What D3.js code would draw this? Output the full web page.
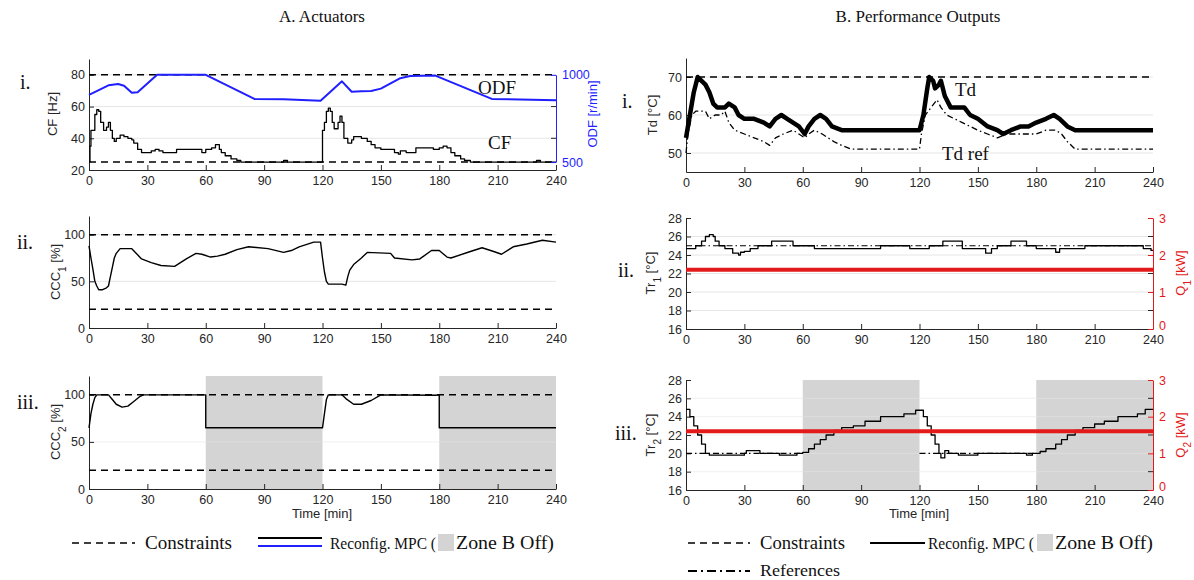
<!DOCTYPE html>
<html><head><meta charset="utf-8">
<script src="https://cdn.jsdelivr.net/npm/d3@7"></script>
<style>
body{margin:0;background:#fff}
text{font-family:"Liberation Sans",Arial,Helvetica,sans-serif}
.serif{font-family:"Liberation Serif","Times New Roman",serif}
</style>
</head><body>
<svg id="c" width="1194" height="580"></svg>
<script>
// ---------- data ----------
const timeTicks = [0,30,60,90,120,150,180,210,240];
const zoneOff = [[60,120],[180,240]];

// A.i  CF [Hz] (left) and ODF [r/min] (right)
const cfTicks = [20,40,60,80];
const cfConstraints = [25,80];
const cfData = [[0,25],[0.5,35],[1,45],[3,55],[4,58],[5,57],[6,50],[7.5,45],[9,47],[10,50],[11,45],[12,40],[13,38],[14,40],[16,42],[18,41],[20,40],[22,39],[23,37],[25,33],[27,31],[32,32],[34,33],[36,32],[38,31],[45,33],[56,33],[58,31],[60,33],[63,34],[65,36],[67,33],[68,31],[70,29],[73,27],[76,26],[78,25],[100,26],[102,25],[120,45],[121,50],[122,57],[123,59],[124,57],[125,50],[126,46],[128,50],[129,54],[130,50],[131,40],[133,37],[135,39],[136,41],[140,40],[143,38],[145,36],[147,34],[150,33],[155,33],[157,31],[159,30],[160,32],[163,31],[168,34],[175,34],[177,33],[180,34],[182,35],[184,34],[186,31],[188,29],[191,27],[193,26],[196,25],[230,26],[232,25],[240,25]];
const odfTicks = [500,1000];
const odfData = [[0,885],[5,912],[10,940],[15,948],[18,938],[22,897],[25,900],[35,1000],[60,1000],[85,862],[100,860],[119,852],[130,963],[135,903],[140,906],[145,908],[150,921],[160,981],[165,994],[178,996],[207,862],[240,854]];

// A.ii CCC1 [%]
const pctTicks = [0,50,100];
const pctConstraints = [20,100];
const ccc1Data = [[0,88],[1,75],[2,63],[3,50],[4,45],[5,41],[7,41],[9,43],[10,45],[11,55],[12,65],[13,75],[14,80],[16,85],[22,85],[27,74],[32,70],[37,67],[44,66],[50,74],[55,80],[58,79],[62.5,76],[66,77],[70,79],[76,84],[82,87],[92,85],[100,81],[104,83],[108,87],[115.5,92],[119,92],[120,75],[121,60],[122,50],[123,47],[130,47],[132,46],[133,55],[134,62],[136,68],[140,75],[143,81],[155,80],[157,75],[166,73],[170,74],[176,83],[180,83],[184,76],[186,75],[196,82],[202,86],[208,82],[212,79],[218,87],[225,90],[233,94],[240,92]];

// A.iii CCC2 [%]
const ccc2Data = [[0,65],[1,80],[2,90],[3,97],[4,100],[10,100],[12,95],[14,90],[17,87],[20,88],[23,93],[26,98],[28,100],[60,100],[60,65],[120,65],[121,80],[122,95],[123,100],[130,100],[132,96],[136,90],[140,90],[145,94],[150,100],[178,99.5],[180,100],[180,65],[240,65]];

// B.i Td [°C]
const tdTicks = [50,60,70];
const tdConstraint = [70];
const tdData = [[0,54],[2,60],[4,66],[6,70],[8,69],[10,68],[12,66],[14,63],[16,62],[20,62],[22,63],[25,62],[27,60],[30,59],[35,59],[40,58],[43,57],[46,59],[49,60],[52,59],[55,58],[58,57],[61,55],[63,57],[66,59],[69,60],[72,59],[75,57],[80,56],[120,56],[122,60],[124,67],[125,70],[127,69],[128,67],[130,68],[131,69],[133,65],[136,62],[143,62],[146,60],[150,59],[155,57],[160,56],[163,55],[167,56],[172,57],[176,57],[180,58],[185,59],[189,60],[192,59],[196,57],[200,56],[240,56]];
const tdRefData = [[0,50],[1,55],[3,60],[5,61],[10,61],[12,59],[15,60],[18,60],[20,61],[22,58],[25,56],[30,55],[35,54],[40,53],[43,52],[46,54],[50,55],[55,56],[58,55],[61,54],[63,55],[66,56],[70,55],[73,54],[76,53],[80,52],[85,51],[120,51],[121,55],[123,60],[126,62],[129,64],[131,62],[134,60],[138,59],[142,58],[146,57],[150,56],[155,55],[160,54],[165,55],[180,55],[185,56],[190,56],[193,55],[196,53],[200,51],[240,51]];

// B.ii Tr1 [°C] and Q1 [kW]
const trTicks = [16,18,20,22,24,26,28];
const qTicks = [0,1,2,3];
const tr1Data = [[0,24.7],[5,25],[8,25.5],[10,26],[12,26.2],[14,26],[15,25.5],[17,25],[20,24.7],[24,24.2],[27,24],[28,24.3],[30,24.4],[33,24.7],[37,25],[44,25.5],[55,25],[66,24.7],[100,25],[115,24.7],[125,25],[132,25.5],[142,24.7],[154,24.2],[157,24.7],[160,25],[167,25.5],[175,25],[180,24.7],[190,24.3],[192,24.7],[205,25],[235,24.7],[239,24.5],[240,24.5]];
const tr1Ref = [[0,25],[240,25]];
const q1Data = [[0,1.6],[240,1.6]];

// B.iii Tr2 [°C] and Q2 [kW]
const tr2Data = [[0,24.8],[2,24],[4,23],[6,22],[8,21],[10,20],[12,19.8],[30,20],[31,20.3],[38,20],[48,19.8],[55,19.8],[57,20],[60,20.1],[63,20.5],[66,21],[69,21.5],[72,22],[76,22.5],[80,22.8],[86,23],[92,23.5],[100,24],[112,24.3],[118,24.7],[120,24.7],[122,24],[124,23],[126,22],[128,21],[130,20],[131,19.5],[133,20.3],[135,20],[140,19.8],[150,20],[175,19.8],[178,20],[182,20.2],[185,20.5],[190,21],[193,21.5],[196,22],[200,22.5],[204,22.8],[210,23.2],[215,23.5],[222,24],[232,24.3],[236,24.8],[240,24.8]];
const tr2Ref = [[[0,20],[60,20]],[[120,20],[180,20]]];
const q2Data = [[0,1.6],[240,1.6]];

// ---------- drawing ----------
const svg = d3.select("#c");
const AXC = "#262626", GRID = "#e6e6e6", ZONE = "#d4d4d4";
const BLUE = "#1f1fff", RED = "#e31a1a";
const fmt = d3.format("d");

function panel(o){
  const x = d3.scaleLinear([0,240],[o.x0,o.x1]);
  const y = d3.scaleLinear(o.domain,[o.yb,o.yt]);
  const g = svg.append("g");
  if(o.zones) o.zones.forEach(z=>g.append("rect").attr("x",x(z[0])).attr("y",o.yt)
      .attr("width",x(z[1])-x(z[0])).attr("height",o.yb-o.yt).attr("fill",ZONE));
  o.ticks.forEach(t=>{ if(t!==o.domain[0]&&t!==o.domain[1])
    g.append("line").attr("x1",o.x0).attr("x2",o.x1).attr("y1",y(t)).attr("y2",y(t))
      .attr("stroke",GRID).attr("stroke-width",1).attr("opacity",o.zones?0.55:1);});
  const ax = g.append("g").attr("transform",`translate(${o.x0},0)`)
    .call(d3.axisLeft(y).tickValues(o.ticks).tickFormat(fmt).tickSizeInner(-5).tickSizeOuter(0).tickPadding(4));
  const bx = g.append("g").attr("transform",`translate(0,${o.yb})`)
    .call(d3.axisBottom(x).tickValues(timeTicks).tickFormat(fmt).tickSizeInner(-5).tickSizeOuter(0).tickPadding(6));
  [ax,bx].forEach(a=>{a.selectAll("path,line").attr("stroke",AXC);
    a.selectAll("text").attr("fill",AXC).style("font-size","12.5px");});
  return {x,y,g};
}
function rightAxis(p,o,scale,ticks,color,mirror){
  const r = p.g.append("g").attr("transform",`translate(${o.x1},0)`)
    .call(d3.axisRight(scale).tickValues(ticks).tickFormat(fmt).tickSizeInner(-5).tickSizeOuter(0).tickPadding(6));
  r.selectAll("path,line").attr("stroke",color);
  r.selectAll("text").attr("fill",color).style("font-size","12.5px")
    .filter(d=>d===0).attr("dy","0.05em");
  mirror.forEach(t=>p.g.append("line").attr("x1",o.x1-5).attr("x2",o.x1)
    .attr("y1",p.y(t)).attr("y2",p.y(t)).attr("stroke",AXC));
}
function path(p,data,opt){
  const line = d3.line().x(d=>p.x(d[0])).y(d=>p.y(d[1])).curve(opt.curve||d3.curveLinear);
  return p.g.append("path").attr("d",line(data)).attr("fill","none")
    .attr("stroke",opt.color||"#000").attr("stroke-width",opt.w||1.3)
    .attr("stroke-dasharray",opt.dash||null).attr("stroke-linejoin","round");
}
function hline(p,v,opt){ path(p,[[0,v],[240,v]],opt); }
function ylabel(x,y,parts,color){
  const t = svg.append("text").attr("transform",`translate(${x},${y}) rotate(-90)`)
    .attr("text-anchor","middle").attr("fill",color||AXC).style("font-size","13px");
  parts.forEach(pt=>{ const s=t.append("tspan").text(pt[0]);
    if(pt[1]) s.attr("baseline-shift","sub").style("font-size","10px"); });
}
function stext(x,y,s,size,anchor,len){
  const t=svg.append("text").attr("class","serif").attr("x",x).attr("y",y).text(s)
    .attr("text-anchor",anchor||"start").style("font-size",size+"px").attr("fill","#111");
  if(len) t.attr("textLength",len).attr("lengthAdjust","spacingAndGlyphs");
}
const DASH="7,5", DASHDOT="6,3,1.5,3";

// A.i
const oAi={x0:89,x1:556,yt:59,yb:170,domain:[20,90],ticks:cfTicks};
const pAi=panel(oAi);
cfConstraints.forEach(v=>hline(pAi,v,{dash:DASH,w:1.5}));
path(pAi,cfData,{curve:d3.curveStepAfter,w:1.3});
const odfScale=d3.scaleLinear([500,1000],[pAi.y(25),pAi.y(80)]);
path({x:pAi.x,y:odfScale,g:pAi.g},odfData,{color:BLUE,w:2});
rightAxis(pAi,oAi,odfScale,odfTicks,BLUE,[40,60]);

// A.ii
const oAii={x0:89,x1:556,yt:216,yb:328,domain:[0,120],ticks:pctTicks};
const pAii=panel(oAii);
pctConstraints.forEach(v=>hline(pAii,v,{dash:DASH,w:1.5}));
path(pAii,ccc1Data,{w:1.4});

// A.iii
const oAiii={x0:89,x1:556,yt:376,yb:489,domain:[0,120],ticks:pctTicks,zones:zoneOff};
const pAiii=panel(oAiii);
pctConstraints.forEach(v=>hline(pAiii,v,{dash:DASH,w:1.5}));
path(pAiii,ccc2Data,{w:1.4});

// B.i
const oBi={x0:686,x1:1153,yt:58,yb:172,domain:[45,75],ticks:tdTicks};
const pBi=panel(oBi);
tdConstraint.forEach(v=>hline(pBi,v,{dash:DASH,w:1.5}));
path(pBi,tdRefData,{dash:DASHDOT,w:1.3});
path(pBi,tdData,{w:4.5});

// B.ii
const oBii={x0:686,x1:1153,yt:218,yb:329,domain:[16,28],ticks:trTicks};
const pBii=panel(oBii);
path(pBii,tr1Ref,{dash:DASHDOT,w:1.2});
const q1Scale=d3.scaleLinear([0,3],[oBii.yb,oBii.yt]);
path({x:pBii.x,y:q1Scale,g:pBii.g},q1Data,{color:RED,w:4});
path(pBii,tr1Data,{curve:d3.curveStepAfter,w:1.3});
rightAxis(pBii,oBii,q1Scale,qTicks,RED,[18,22,26]);

// B.iii
const oBiii={x0:686,x1:1153,yt:380,yb:490,domain:[16,28],ticks:trTicks,zones:zoneOff};
const pBiii=panel(oBiii);
tr2Ref.forEach(seg=>path(pBiii,seg,{dash:DASHDOT,w:1.2}));
path(pBiii,tr2Data,{curve:d3.curveStepAfter,w:1.3});
const q2Scale=d3.scaleLinear([0,3],[oBiii.yb,oBiii.yt]);
path({x:pBiii.x,y:q2Scale,g:pBiii.g},q2Data,{color:RED,w:4});
rightAxis(pBiii,oBiii,q2Scale,qTicks,RED,[18,22,26]);

// axis labels
ylabel(57,114,[["CF [Hz]"]]);
ylabel(597,114,[["ODF [r/min]"]],BLUE);
ylabel(60,272,[["CCC"],["1",1],[" [%]"]]);
ylabel(60,432,[["CCC"],["2",1],[" [%]"]]);
ylabel(657,115,[["Td [°C]"]]);
ylabel(655,273,[["Tr"],["1",1],[" [°C]"]]);
ylabel(655,435,[["Tr"],["2",1],[" [°C]"]]);
ylabel(1185,273,[["Q"],["1",1],[" [kW]"]],RED);
ylabel(1185,435,[["Q"],["2",1],[" [kW]"]],RED);
[[322,518],[919,518]].forEach(p=>svg.append("text").attr("x",p[0]).attr("y",p[1])
  .attr("text-anchor","middle").attr("fill",AXC).style("font-size","13px").text("Time [min]"));

// titles, roman numerals, annotations
stext(322,22,"A. Actuators",17,"middle");
stext(918,22,"B. Performance Outputs",17,"middle");
stext(20,89,"i.",20); stext(17,249,"ii.",20); stext(17,409,"iii.",20);
stext(622,108,"i.",20); stext(618,277,"ii.",20); stext(615,440,"iii.",20);
stext(478,94,"ODF",19); stext(488,149,"CF",19);
stext(955,96,"Td",19); stext(942,160,"Td ref",19);

// legends
function legLine(x1,x2,y,opt){svg.append("line").attr("x1",x1).attr("x2",x2).attr("y1",y).attr("y2",y)
  .attr("stroke",opt.color||"#000").attr("stroke-width",opt.w||1.5).attr("stroke-dasharray",opt.dash||null);}
legLine(72,135,543,{dash:DASH,w:1.5}); stext(145,549,"Constraints",18,"start",87);
legLine(258,322,538,{w:2.2}); legLine(258,322,546,{w:2.2,color:BLUE});
stext(330,549,"Reconfig. MPC (",17,"start",106);
svg.append("rect").attr("x",438).attr("y",534).attr("width",16).attr("height",17).attr("fill",ZONE);
stext(456,549,"Zone B Off)",18,"start",98);

legLine(688,750,543,{dash:DASH,w:1.5}); stext(760,549,"Constraints",18,"start",85);
legLine(870,925,543,{w:2}); stext(928,549,"Reconfig. MPC (",17,"start",106);
svg.append("rect").attr("x",1037).attr("y",534).attr("width",16).attr("height",17).attr("fill",ZONE);
stext(1055,549,"Zone B Off)",18,"start",98);
legLine(688,750,571,{dash:"9,4,2,4",w:2}); stext(760,576,"References",17,"start",80);
</script>
</body></html>
